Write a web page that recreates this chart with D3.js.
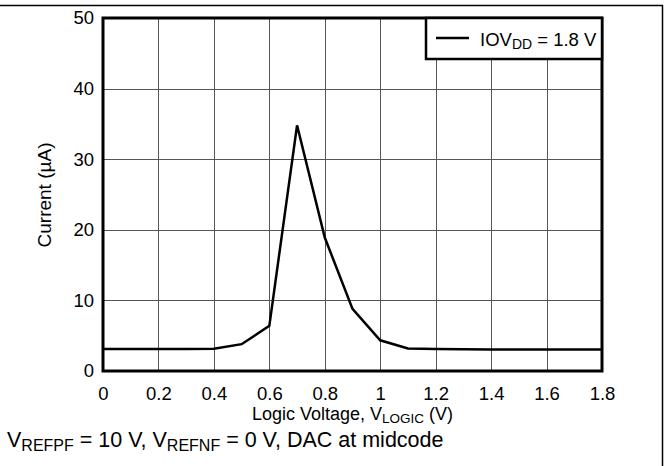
<!DOCTYPE html>
<html>
<head>
<meta charset="utf-8">
<script src="https://cdn.jsdelivr.net/npm/d3@7"></script>
<style>
  html, body { margin: 0; padding: 0; background: #fff; }
  svg { display: block; font-family: "Liberation Sans", Arial, Helvetica, sans-serif; }
</style>
</head>
<body>
<svg id="chart" width="669" height="466"></svg>
<script>
// Supply current vs. logic voltage
const voltages = [0, 0.1, 0.2, 0.3, 0.4, 0.5, 0.6, 0.7, 0.8, 0.9, 1.0, 1.1, 1.2, 1.3, 1.4, 1.5, 1.6, 1.7, 1.8];
const currents = [3.1, 3.1, 3.12, 3.1, 3.15, 3.8, 6.4, 34.8, 18.9, 8.8, 4.35, 3.2, 3.1, 3.08, 3.05, 3.05, 3.05, 3.05, 3.05];
const xTicks = [0, 0.2, 0.4, 0.6, 0.8, 1, 1.2, 1.4, 1.6, 1.8];
const yTicks = [0, 10, 20, 30, 40, 50];

const svg = d3.select("#chart");
const plot = { left: 103, right: 602, top: 18, bottom: 371 };

const x = d3.scaleLinear().domain([0, 1.8]).range([plot.left, plot.right]);
const y = d3.scaleLinear().domain([0, 50]).range([plot.bottom, plot.top]);

// Outer frame (top and right edges)
svg.append("path")
  .attr("d", "M0,5.5H662.5V466")
  .attr("fill", "none").attr("stroke", "#000").attr("stroke-width", 1.5);

// Grid at each labelled tick
const grid = svg.append("g").attr("stroke", "#555").attr("stroke-width", 1);
grid.selectAll("line.v").data(xTicks.slice(1, -1)).join("line")
  .attr("x1", d => Math.round(x(d)) + 0.5).attr("x2", d => Math.round(x(d)) + 0.5)
  .attr("y1", plot.top).attr("y2", plot.bottom);
grid.selectAll("line.h").data(yTicks.slice(1, -1)).join("line")
  .attr("y1", d => Math.round(y(d)) + 0.5).attr("y2", d => Math.round(y(d)) + 0.5)
  .attr("x1", plot.left).attr("x2", plot.right);

// Tick labels from d3 axes, axis lines replaced by the plot border
const xAxis = svg.append("g").attr("transform", `translate(0,${plot.bottom})`)
  .call(d3.axisBottom(x).tickValues(xTicks).tickSize(0).tickPadding(16).tickFormat(d3.format("~g")));
const yAxis = svg.append("g").attr("transform", `translate(${plot.left},0)`)
  .call(d3.axisLeft(y).tickValues(yTicks).tickSize(0).tickPadding(9).tickFormat(d3.format("~g")));
[xAxis, yAxis].forEach(a => {
  a.select(".domain").remove();
  a.selectAll("text").attr("font-size", 18.5).attr("fill", "#000")
    .attr("font-family", "'Liberation Sans', Arial, sans-serif");
});

// Plot border
svg.append("rect")
  .attr("x", plot.left).attr("y", plot.top)
  .attr("width", plot.right - plot.left).attr("height", plot.bottom - plot.top)
  .attr("fill", "none").attr("stroke", "#000").attr("stroke-width", 3);

// Data line
const line = d3.line().x((d, i) => x(voltages[i])).y(d => y(d));
svg.append("path")
  .datum(currents)
  .attr("d", line)
  .attr("fill", "none").attr("stroke", "#000").attr("stroke-width", 2.5)
  .attr("stroke-linejoin", "miter");

// Legend
const lg = svg.append("g");
lg.append("rect").attr("x", 426).attr("y", plot.top).attr("width", plot.right - 426).attr("height", 41)
  .attr("fill", "#fff").attr("stroke", "#000").attr("stroke-width", 2.5);
lg.append("line").attr("x1", 436).attr("x2", 469).attr("y1", 38).attr("y2", 38)
  .attr("stroke", "#000").attr("stroke-width", 2.5);
const lt = lg.append("text").attr("x", 480).attr("y", 45.5).attr("font-size", 18.5);
lt.append("tspan").text("IOV");
lt.append("tspan").attr("font-size", 14).attr("dy", 3).text("DD");
lt.append("tspan").attr("dy", -3).text(" = 1.8 V");

// Axis titles
const xt = svg.append("text").attr("x", 352.5).attr("y", 420).attr("text-anchor", "middle").attr("font-size", 18);
xt.append("tspan").text("Logic Voltage, V");
xt.append("tspan").attr("font-size", 13.5).attr("dy", 3).text("LOGIC");
xt.append("tspan").attr("dy", -3).text(" (V)");

svg.append("text")
  .attr("transform", "translate(51,195) rotate(-90)")
  .attr("text-anchor", "middle").attr("font-size", 19)
  .text("Current (\u00B5A)");

// Conditions note
const note = svg.append("text").attr("x", 7).attr("y", 447).attr("font-size", 21.5);
note.append("tspan").text("V");
note.append("tspan").attr("font-size", 16).attr("dy", 4).text("REFPF");
note.append("tspan").attr("dy", -4).text(" = 10 V, V");
note.append("tspan").attr("font-size", 16).attr("dy", 4).text("REFNF");
note.append("tspan").attr("dy", -4).text(" = 0 V, DAC at midcode");
</script>
</body>
</html>
